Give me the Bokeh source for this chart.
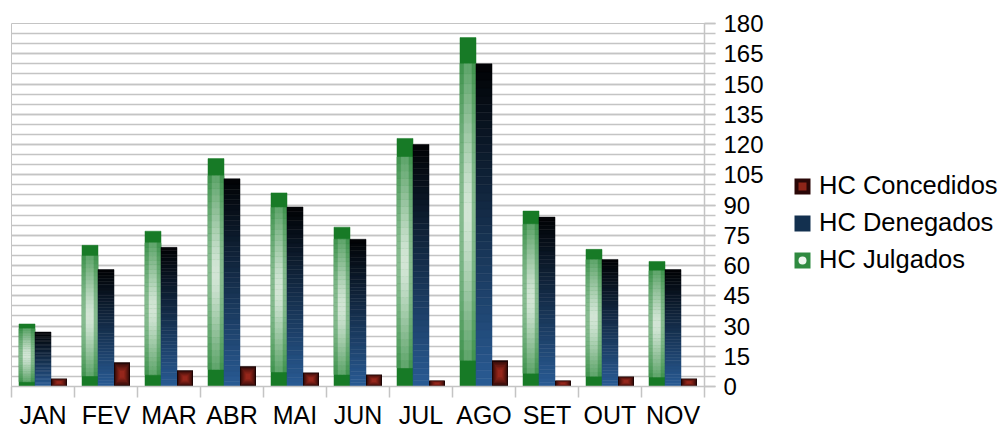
import numpy as np
from bokeh.plotting import figure
from bokeh.layouts import row
from bokeh.models import FixedTicker, ColumnDataSource, Legend, LegendItem, Range1d
from bokeh.embed import file_html
from bokeh.resources import INLINE

# ---- data ----
months = ["JAN", "FEV", "MAR", "ABR", "MAI", "JUN", "JUL", "AGO", "SET", "OUT", "NOV"]
julgados = [31, 70, 77, 113, 96, 79, 123, 173, 87, 68, 62]
denegados = [27, 58, 69, 103, 89, 73, 120, 160, 84, 63, 58]
concedidos = [4, 12, 8, 10, 7, 6, 3, 13, 3, 5, 4]
series_names = ["HC Concedidos", "HC Denegados", "HC Julgados"]
y_ticks = list(range(0, 181, 15))
y_minor = list(range(0, 181, 5))

FONT = "Liberation Sans"
GRID = "#c4c4c4"
GREEN = "#177a26"
GREEN_EDGE = "#3a9049"
BLUE_BOTTOM = (0x29, 0x5b, 0x94)
BLUE_TOP = (0x01, 0x02, 0x04)
RED_OUT = (0x1c, 0x04, 0x04)
RED_IN = (0x95, 0x26, 0x1b)


def hx(c):
    return "#%02x%02x%02x" % tuple(int(round(v)) for v in c)


def mix(a, b, t):
    return tuple(a[k] + (b[k] - a[k]) * t for k in range(3))


def h2rgb(h):
    h = h.lstrip("#")
    return tuple(int(h[i:i + 2], 16) for i in (0, 2, 4))


n = len(months)
xc = np.arange(n, dtype=float)
bw = 0.254
x_green = xc - bw
x_blue = xc
x_red = xc + bw

MAIN_RIGHT = 70
p = figure(frame_width=693, frame_height=363, x_range=(-0.5, n - 0.5), y_range=(0, 180),
           y_axis_location="right", output_backend="svg", toolbar_location=None,
           min_border_left=11, min_border_top=23, min_border_bottom=0,
           min_border_right=MAIN_RIGHT)
p.outline_line_color = GRID
p.background_fill_color = "white"
p.border_fill_color = "white"

# grid
yt = FixedTicker(ticks=y_ticks, minor_ticks=y_minor)
p.ygrid.ticker = yt
p.ygrid.grid_line_color = GRID
p.ygrid.grid_line_width = 1.5
p.ygrid.minor_grid_line_color = GRID
p.ygrid.minor_grid_line_width = 1.5
p.xgrid.visible = False

# ---- green bars (solid + radial gradient interior) ----
jul = np.array(julgados, dtype=float)
p.quad(left=x_green - bw / 2, right=x_green + bw / 2, bottom=0, top=jul,
       fill_color=GREEN, line_color=GREEN, line_width=0.5)

g_white = (255, 255, 255)
g_edge = h2rgb(GREEN_EDGE)
nx, ny = 4, 30
L, R, B, T, C = [], [], [], [], []
for i in range(n):
    v = jul[i]
    y0, y1 = 0.075 * v, 0.925 * v
    x0 = x_green[i] - bw / 2
    for a in range(nx):
        for b in range(ny):
            cx = (a + 0.5) / nx * 2 - 1
            cy = (b + 0.5) / ny * 2 - 1
            r = min(1.0, np.sqrt((cx * cx + cy * cy) / 2) * 1.1)
            col = mix(g_white, g_edge, r ** 0.9)
            L.append(x0 + bw * a / nx)
            R.append(x0 + bw * (a + 1) / nx)
            B.append(y0 + (y1 - y0) * b / ny)
            T.append(y0 + (y1 - y0) * (b + 1) / ny)
            C.append(hx(col))
p.quad(left="l", right="r", bottom="b", top="t", fill_color="c", line_color="c",
       line_width=0.5, source=ColumnDataSource(dict(l=L, r=R, b=B, t=T, c=C)))

# ---- blue bars (linear vertical gradient) ----
den = np.array(denegados, dtype=float)
ns = 40
L, R, B, T, C = [], [], [], [], []
for i in range(n):
    v = den[i]
    for j in range(ns):
        f = (j + 0.5) / ns
        L.append(x_blue[i] - bw / 2)
        R.append(x_blue[i] + bw / 2)
        B.append(v * j / ns)
        T.append(v * (j + 1) / ns)
        C.append(hx(mix(BLUE_BOTTOM, BLUE_TOP, f)))
p.quad(left="l", right="r", bottom="b", top="t", fill_color="c", line_color="c",
       line_width=0.5, source=ColumnDataSource(dict(l=L, r=R, b=B, t=T, c=C)))

# ---- red bars (rectangular gradient) ----
con = np.array(concedidos, dtype=float)
levels = 7
L, R, B, T, C = [], [], [], [], []
for k in range(levels):
    s = 1 - k / levels * 0.85
    t = k / (levels - 1)
    for i in range(n):
        v = con[i]
        hw = bw / 2 * s
        hh = v / 2 * s
        L.append(x_red[i] - hw)
        R.append(x_red[i] + hw)
        B.append(v / 2 - hh)
        T.append(v / 2 + hh)
        C.append(hx(mix(RED_OUT, RED_IN, t ** 0.7)))
p.quad(left="l", right="r", bottom="b", top="t", fill_color="c", line_color=None,
       source=ColumnDataSource(dict(l=L, r=R, b=B, t=T, c=C)))

# ---- axes ----
xa = p.xaxis[0]
xa.ticker = FixedTicker(ticks=list(range(n)), minor_ticks=[i - 0.5 for i in range(n + 1)])
xa.major_label_overrides = {i: m for i, m in enumerate(months)}
xa.major_tick_in = 0
xa.major_tick_out = 0
xa.minor_tick_in = 0
xa.minor_tick_out = 11
xa.minor_tick_line_color = GRID
xa.minor_tick_line_width = 1.5
xa.axis_line_color = GRID
xa.axis_line_width = 1.5
xa.major_label_text_font = FONT
xa.major_label_text_font_size = "25px"
xa.major_label_text_color = "black"
xa.major_label_standoff = 3

ya = p.yaxis[0]
ya.ticker = yt
ya.major_tick_in = 0
ya.major_tick_out = 11
ya.minor_tick_in = 0
ya.minor_tick_out = 11
ya.major_tick_line_color = GRID
ya.minor_tick_line_color = GRID
ya.major_tick_line_width = 1.5
ya.minor_tick_line_width = 1.5
ya.axis_line_color = GRID
ya.axis_line_width = 1.5
ya.major_label_text_font = FONT
ya.major_label_text_font_size = "24px"
ya.major_label_text_color = "black"
ya.major_label_standoff = 8

# ---- legend panel (separate figure to the right) ----
main_w = 11 + 693 + MAIN_RIGHT
lf = figure(width=1001 - main_w, height=429, x_range=Range1d(0, 1), y_range=Range1d(0, 1),
            x_axis_location=None, y_axis_location=None, output_backend="svg",
            toolbar_location=None, min_border=0)
lf.outline_line_color = None
lf.grid.visible = False
lf.background_fill_color = "white"
lf.border_fill_color = "white"

z = [0.0]
rc1 = lf.quad(left=z, right=z, top=z, bottom=z, fill_color="#2a0707", line_color=None)
rc2 = lf.scatter(x=z, y=z, size=0, marker="square", fill_color="#8e2519", line_color=None)
rd1 = lf.quad(left=z, right=z, top=z, bottom=z, fill_color="#13304f", line_color=None)
rj1 = lf.quad(left=z, right=z, top=z, bottom=z, fill_color="#2f8a40", line_color=None)
rj2 = lf.scatter(x=z, y=z, size=0, marker="circle", fill_color="#eef6ef", line_color=None)

leg = Legend(items=[LegendItem(label=series_names[0], renderers=[rc1, rc2]),
                    LegendItem(label=series_names[1], renderers=[rd1]),
                    LegendItem(label=series_names[2], renderers=[rj1, rj2])],
             location=(792 - main_w, 110), orientation="vertical",
             label_text_font=FONT, label_text_font_size="25.5px", label_text_color="black",
             glyph_width=20, glyph_height=20, label_standoff=7, spacing=8,
             label_height=29, border_line_color=None, background_fill_alpha=0,
             margin=0, padding=0)
lf.add_layout(leg)

layout = row(p, lf)
open("out.html", "w").write(file_html(layout, INLINE))
